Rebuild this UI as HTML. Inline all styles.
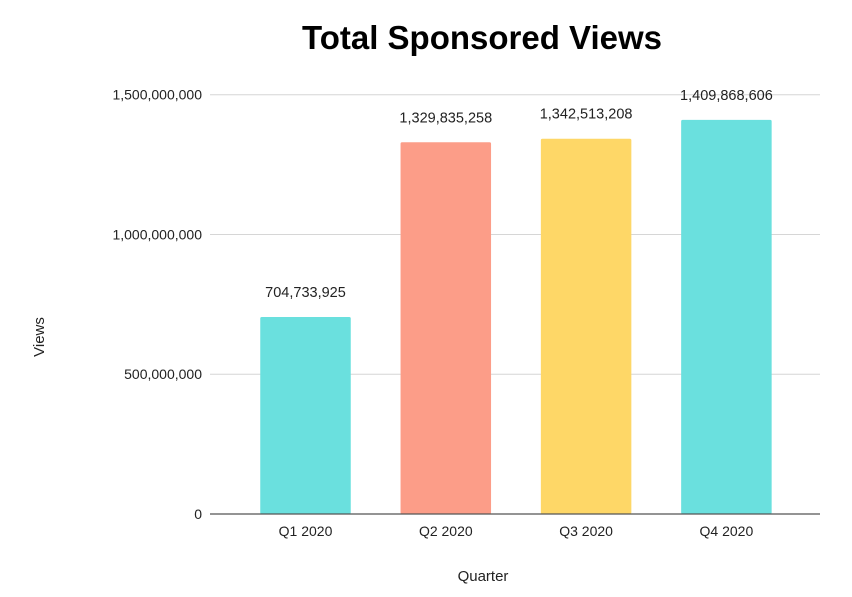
<!DOCTYPE html>
<html><head><meta charset="utf-8">
<style>
html,body{margin:0;padding:0;background:#fff;}
svg{display:block;font-family:"Liberation Sans",Arial,sans-serif;}
</style></head>
<body>
<svg id="chart" width="852" height="597" viewBox="0 0 852 597">
<text x="482" y="49" text-anchor="middle" font-size="33" font-weight="bold" fill="#000">Total Sponsored Views</text>
<text x="44" y="337" text-anchor="middle" font-size="15" fill="#222" transform="rotate(-90 44 337)">Views</text>
<text x="483" y="581" text-anchor="middle" font-size="15" fill="#222">Quarter</text>
<g id="grid"></g><g id="bars"></g><g id="labels"></g>
</svg>
<script>
const categories = ["Q1 2020","Q2 2020","Q3 2020","Q4 2020"];
const views = [704733925,1329835258,1342513208,1409868606];
const colors = ["#6ae0de","#fc9d88","#fed767","#6ae0de"];
const yTicks = [0,500000000,1000000000,1500000000];
const yTickLabels = ["0","500,000,000","1,000,000,000","1,500,000,000"];
const NS="http://www.w3.org/2000/svg";
const plotL=210, plotR=820, base=514, top15=94.7;
function y(v){return base-(v/1500000000)*(base-top15);}
function xc(i){return 305.5+i*140.3;}
const bw=90.5;
function mk(tag,attrs,parent){const e=document.createElementNS(NS,tag);for(const k in attrs)e.setAttribute(k,attrs[k]);document.getElementById(parent).appendChild(e);return e;}
yTicks.forEach((t,i)=>{
  if(t>0){const l=mk("line",{x1:plotL,x2:plotR,y1:y(t),y2:y(t),stroke:"#d6d6d6","stroke-width":1},"grid");
  
  }
  const tx=mk("text",{x:202,y:y(t)+5,"text-anchor":"end","font-size":14,fill:"#222"},"labels");
  tx.textContent=yTickLabels[i];
  
  
});
views.forEach((v,i)=>{
  const r=mk("rect",{x:xc(i)-bw/2,y:y(v),width:bw,height:base-y(v),fill:colors[i],rx:1.5},"bars");
  
  
  const vl=mk("text",{x:xc(i),y:y(v)-20,"text-anchor":"middle","font-size":14.5,fill:"#222"},"labels");
  vl.textContent=v.toLocaleString("en-US");
  
  
  const cl=mk("text",{x:xc(i),y:base+22,"text-anchor":"middle","font-size":14,fill:"#222"},"labels");
  cl.textContent=categories[i];
  
  
});
const ax=mk("line",{x1:plotL,x2:plotR,y1:base,y2:base,stroke:"#555","stroke-width":1.3},"labels");


</script>
</body></html>
